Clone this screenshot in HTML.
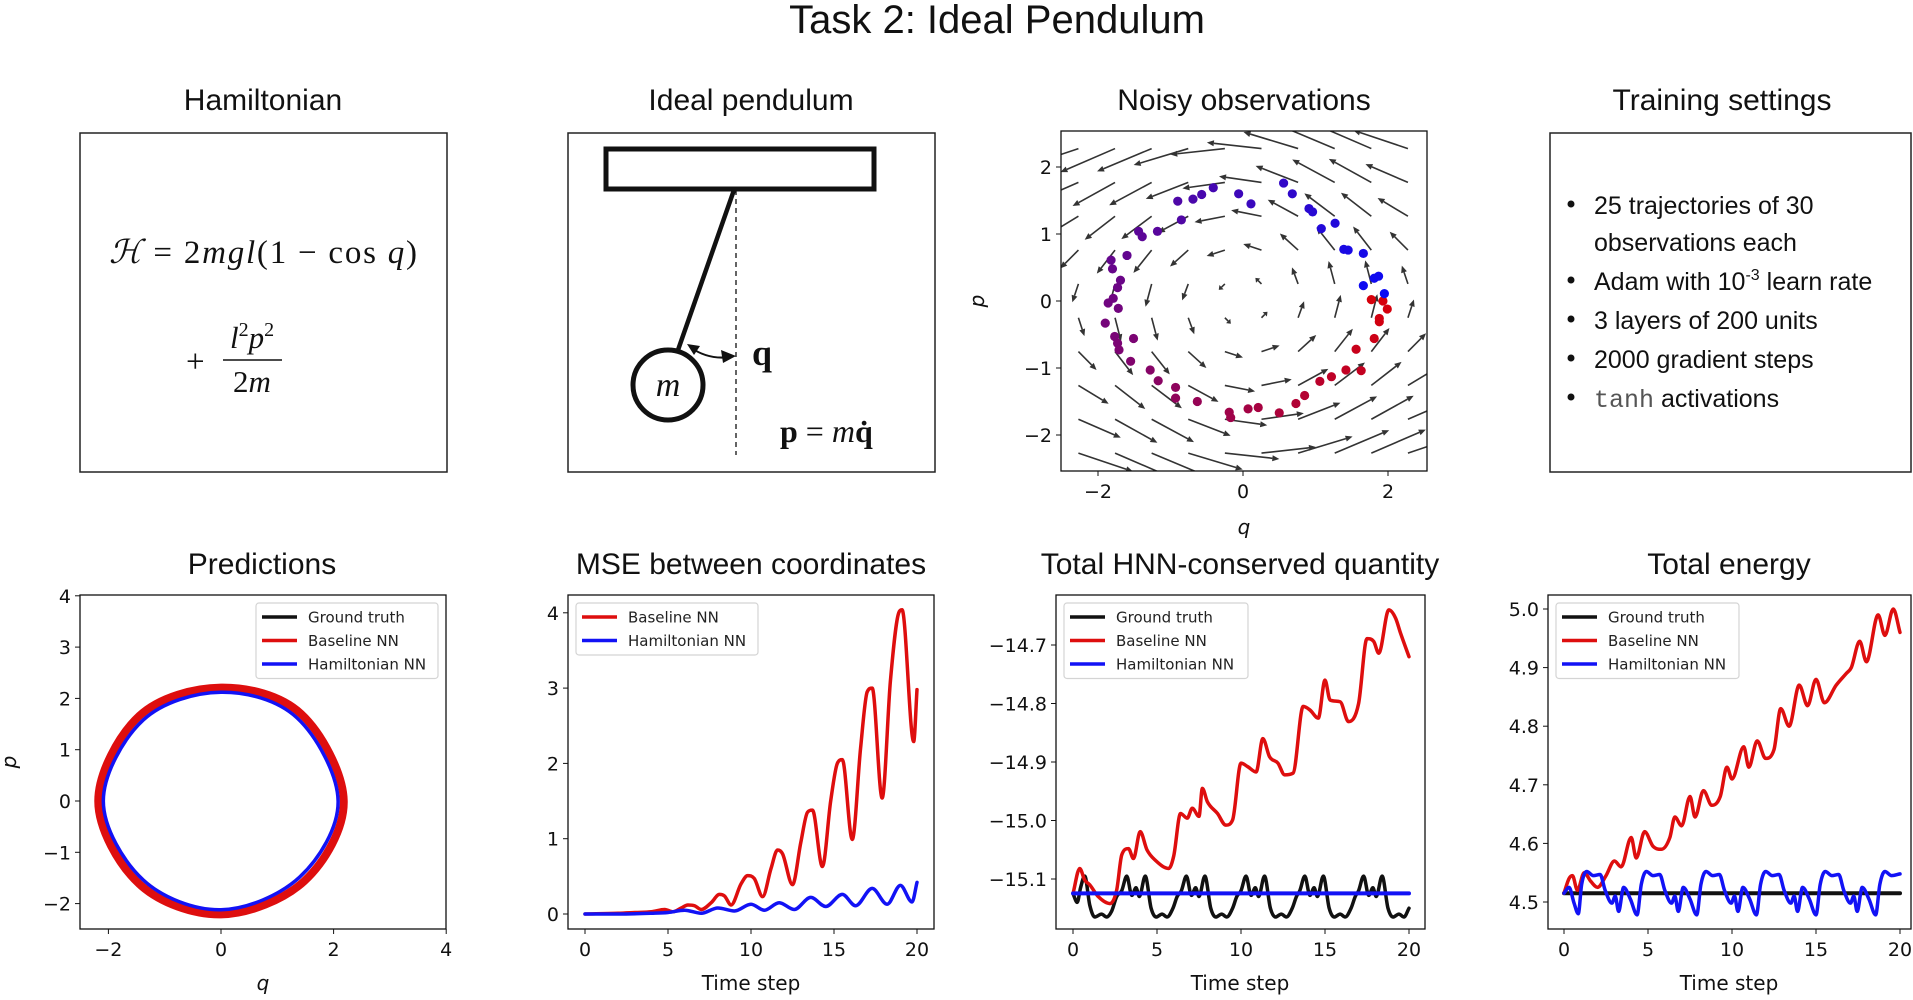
<!DOCTYPE html>
<html><head><meta charset="utf-8">
<style>
html,body{margin:0;padding:0;background:#fff;}
svg{display:block;}
.t{font-family:"Liberation Sans",sans-serif;}
.d{font-family:"DejaVu Sans","Liberation Sans",sans-serif;}
.s{font-family:"Liberation Serif","DejaVu Serif",serif;}
</style></head>
<body>
<svg id="fig" xmlns="http://www.w3.org/2000/svg" width="1913" height="1000" viewBox="0 0 1913 1000">
<text class="t" x="997" y="33" font-size="40" text-anchor="middle" fill="#111">Task 2: Ideal Pendulum</text>

<text class="t" x="263" y="110" font-size="30" text-anchor="middle" fill="#111">Hamiltonian</text>
<rect x="80" y="133" width="367" height="339" fill="none" stroke="#222" stroke-width="1.5"/>
<text class="s" x="109" y="263" font-size="33" fill="#111" textLength="308"><tspan font-style="italic">ℋ</tspan> = 2<tspan font-style="italic">mgl</tspan>(1 − cos <tspan font-style="italic">q</tspan>)</text>
<text class="s" x="186" y="372" font-size="33" fill="#111">+</text>
<text class="s" x="252" y="348" font-size="31" fill="#111" text-anchor="middle" font-style="italic">l<tspan font-size="20" dy="-12" font-style="normal">2</tspan><tspan dy="12">p</tspan><tspan font-size="20" dy="-12" font-style="normal">2</tspan></text>
<line x1="223" y1="360" x2="282" y2="360" stroke="#111" stroke-width="1.5"/>
<text class="s" x="252" y="392" font-size="31" fill="#111" text-anchor="middle">2<tspan font-style="italic">m</tspan></text>

<text class="t" x="751" y="110" font-size="30" text-anchor="middle" fill="#111">Ideal pendulum</text>
<rect x="568" y="133" width="367" height="339" fill="none" stroke="#222" stroke-width="1.5"/>
<rect x="606" y="149" width="268" height="40" fill="none" stroke="#111" stroke-width="5"/>
<line x1="736" y1="190" x2="736" y2="455" stroke="#111" stroke-width="1.3" stroke-dasharray="5,4"/>
<line x1="734" y1="190" x2="678" y2="350" stroke="#111" stroke-width="4.5"/>
<circle cx="668" cy="385" r="35" fill="none" stroke="#111" stroke-width="5"/>
<text class="s" x="668" y="396" font-size="34" font-style="italic" text-anchor="middle" fill="#111">m</text>
<path d="M690,347 Q708,360 730,357" fill="none" stroke="#111" stroke-width="2"/>
<polygon points="736,356 721,350 723,363" fill="#111"/>
<polygon points="687,344 700,346 694,355" fill="#111"/>
<text class="s" x="752" y="365" font-size="36" font-weight="bold" fill="#111">q</text>
<text class="s" x="780" y="442" font-size="32" fill="#111"><tspan font-weight="bold">p</tspan> = <tspan font-style="italic">m</tspan><tspan font-weight="bold">q̇</tspan></text>

<text class="t" x="1722" y="110" font-size="30" text-anchor="middle" fill="#111">Training settings</text>
<rect x="1550" y="133" width="361" height="339" fill="none" stroke="#222" stroke-width="1.5"/>
<g class="t" font-size="25" fill="#111">
<circle cx="1571" cy="204" r="3.5" fill="#111"/><text x="1594" y="214">25 trajectories of 30</text>
<text x="1594" y="251">observations each</text>
<circle cx="1571" cy="280" r="3.5" fill="#111"/><text x="1594" y="290">Adam with 10<tspan font-size="16" dy="-10">-3</tspan><tspan dy="10"> learn rate</tspan></text>
<circle cx="1571" cy="319" r="3.5" fill="#111"/><text x="1594" y="329">3 layers of 200 units</text>
<circle cx="1571" cy="358" r="3.5" fill="#111"/><text x="1594" y="368">2000 gradient steps</text>
<circle cx="1571" cy="397" r="3.5" fill="#111"/><text x="1594" y="407"><tspan font-family="Liberation Mono,monospace" fill="#555">tanh</tspan> activations</text>
</g>

<g id="plots"></g>
</svg>
<script>
// ---------- data ----------
const obsQ = [0.56,0.68,-0.06,0.11,-0.41,-0.57,-0.69,-0.9,-0.85,-1.18,-1.44,-1.39,-1.6,-1.82,-1.80,-1.69,-1.73,-1.79,-1.86,-1.72,-1.9,-1.77,-1.73,-1.71,-1.51,-1.55,-1.28,-1.17,-0.93,-0.93,-0.63,-0.19,-0.17,0.07,0.21,0.5,0.73,0.85,1.06,1.22,1.42,1.63,1.56,1.81,1.88,1.88,1.99,1.93,1.77,1.95,1.66,1.81,1.87,1.66,1.39,1.45,1.08,1.27,0.91,0.96];
const obsP = [1.76,1.60,1.60,1.45,1.69,1.59,1.52,1.49,1.21,1.04,1.04,0.96,0.68,0.61,0.48,0.31,0.2,0.04,-0.03,-0.11,-0.33,-0.53,-0.63,-0.73,-0.56,-0.9,-1.03,-1.19,-1.29,-1.45,-1.50,-1.66,-1.74,-1.61,-1.59,-1.67,-1.53,-1.41,-1.2,-1.13,-1.03,-1.04,-0.72,-0.56,-0.31,-0.26,-0.12,0.0,0.02,0.11,0.23,0.34,0.37,0.71,0.77,0.76,1.08,1.16,1.38,1.33];

const hnnQ = [2.08,1.35,0,-1.38,-2.09,-1.38,0,1.4];
const hnnP = [0,1.62,2.12,1.58,0,-1.54,-2.12,-1.48];
const baseQ = [2.18,1.42,0,-1.45,-2.18,-1.45,0,1.48];
const baseP = [0,1.7,2.21,1.66,0,-1.62,-2.21,-1.56];

const mseBaseT = [0,2,3,4,4.8,5.3,5.8,6.2,6.6,7.0,7.6,8.1,8.4,8.8,9.4,9.8,10.2,10.7,11.2,11.6,11.9,12.5,13.0,13.4,13.7,14.3,14.8,15.2,15.5,16.1,16.6,17.0,17.3,17.9,18.4,18.9,19.1,19.8,20];
const mseBaseV = [0,0.01,0.02,0.03,0.06,0.03,0.08,0.12,0.11,0.06,0.15,0.26,0.24,0.12,0.4,0.51,0.47,0.23,0.6,0.85,0.8,0.39,0.95,1.35,1.38,0.63,1.5,2.0,2.05,0.99,2.2,2.95,3.0,1.54,3.1,4.0,4.04,2.29,2.98];
const mseHnnT = [0,2,4,5,6,7,8,9,10,10.8,11.7,12.6,13.6,14.5,15.5,16.3,17.3,18.2,19.0,19.7,20];
const mseHnnV = [0,0.0,0.01,0.02,0.05,0.01,0.08,0.04,0.13,0.05,0.15,0.06,0.22,0.1,0.26,0.11,0.34,0.13,0.38,0.16,0.42];

const hqBaseT = [0,0.4,0.7,1.0,1.5,2.2,2.6,2.9,3.3,3.6,4.0,4.4,4.9,5.7,6.0,6.4,6.8,7.1,7.5,7.7,8.0,8.6,9.1,9.5,10.0,10.4,10.9,11.3,11.7,12.2,12.6,13.1,13.7,14.1,14.6,15.0,15.3,15.9,16.4,17.0,17.5,17.9,18.2,18.8,19.2,19.5,20];
const hqBaseV = [-15.125,-15.082,-15.102,-15.11,-15.13,-15.142,-15.119,-15.059,-15.048,-15.065,-15.019,-15.05,-15.068,-15.082,-15.06,-14.988,-14.996,-14.979,-14.993,-14.945,-14.968,-14.988,-15.008,-14.999,-14.902,-14.908,-14.917,-14.86,-14.891,-14.902,-14.922,-14.919,-14.805,-14.811,-14.825,-14.76,-14.794,-14.797,-14.831,-14.80,-14.689,-14.694,-14.714,-14.64,-14.654,-14.68,-14.72];
const hqTruthT = [0,0.25,0.45,0.7,1.0,1.3,1.7,2.0,2.3,2.6,2.9,3.2,3.5,3.75,3.95,4.3,4.65,4.95,5.3,5.6,5.95,6.2,6.45,6.75,7.05,7.3,7.5,7.85,8.2,8.5,8.85,9.15,9.5,9.75,10.0,10.3,10.6,10.85,11.05,11.4,11.75,12.05,12.4,12.7,13.05,13.3,13.5,13.8,14.1,14.35,14.55,14.9,15.25,15.55,15.9,16.2,16.55,16.8,17.0,17.3,17.6,17.85,18.05,18.4,18.75,19.05,19.4,19.7,20];
const hqTruthV = [-15.125,-15.14,-15.115,-15.095,-15.145,-15.165,-15.16,-15.165,-15.155,-15.13,-15.12,-15.095,-15.128,-15.115,-15.13,-15.095,-15.15,-15.165,-15.16,-15.165,-15.15,-15.13,-15.12,-15.095,-15.128,-15.115,-15.13,-15.095,-15.15,-15.165,-15.16,-15.165,-15.15,-15.13,-15.12,-15.095,-15.128,-15.115,-15.13,-15.095,-15.15,-15.165,-15.16,-15.165,-15.15,-15.13,-15.12,-15.095,-15.128,-15.115,-15.13,-15.095,-15.15,-15.165,-15.16,-15.165,-15.15,-15.13,-15.12,-15.095,-15.128,-15.115,-15.13,-15.095,-15.15,-15.165,-15.16,-15.165,-15.15];
const hqHnnT = [0,20];
const hqHnnV = [-15.1245,-15.1245];

const enBaseT = [0,0.3,0.5,0.8,1.2,1.6,2.0,2.5,3.0,3.4,4.0,4.3,4.8,5.3,5.8,6.3,6.6,7.0,7.5,7.8,8.3,8.8,9.3,9.7,10.0,10.7,11.0,11.5,12.0,12.5,12.9,13.4,14.0,14.5,15.0,15.5,16.2,16.8,17.1,17.6,18.0,18.7,19.1,19.6,20];
const enBaseV = [4.515,4.54,4.545,4.52,4.55,4.535,4.525,4.545,4.57,4.56,4.61,4.575,4.62,4.595,4.59,4.61,4.645,4.63,4.68,4.645,4.69,4.665,4.68,4.73,4.71,4.765,4.73,4.775,4.745,4.76,4.83,4.80,4.87,4.835,4.88,4.84,4.87,4.89,4.90,4.945,4.91,4.99,4.955,5.0,4.96];
const enHnnT = [0,0.3,0.6,0.85,1.05,1.35,1.75,2.15,2.45,2.85,3.05,3.25,3.55,3.95,4.35,4.6,4.9,5.3,5.7,6.0,6.4,6.6,6.8,7.1,7.5,7.9,8.15,8.45,8.85,9.25,9.55,9.95,10.15,10.35,10.65,11.05,11.45,11.7,12.0,12.4,12.8,13.1,13.5,13.7,13.9,14.2,14.6,15.0,15.25,15.55,15.95,16.35,16.65,17.05,17.25,17.45,17.75,18.15,18.55,18.8,19.1,19.5,20];
const enHnnV = [4.515,4.525,4.498,4.48,4.53,4.552,4.545,4.547,4.52,4.498,4.51,4.484,4.525,4.505,4.478,4.53,4.552,4.545,4.547,4.52,4.498,4.51,4.484,4.525,4.505,4.478,4.53,4.552,4.545,4.547,4.52,4.498,4.51,4.484,4.525,4.505,4.478,4.53,4.552,4.545,4.547,4.52,4.498,4.51,4.484,4.525,4.505,4.478,4.53,4.552,4.545,4.547,4.52,4.498,4.51,4.484,4.525,4.505,4.478,4.53,4.552,4.545,4.548];
const enTruthT = [0,20];
const enTruthV = [4.515,4.515];

const timeTicks = [0,5,10,15,20];
const predXTicks = [-2,0,2,4];
const predYTicks = [-2,-1,0,1,2,3,4];
const obsTicks = [-2,-1,0,1,2];
const obsXTicks = [-2,0,2];
const mseTicks = [0,1,2,3,4];
const hqTicks = [-14.7,-14.8,-14.9,-15.0,-15.1];
const enTicks = [4.5,4.6,4.7,4.8,4.9,5.0];

// ---------- drawing ----------
const NS = 'http://www.w3.org/2000/svg';
const root = document.getElementById('plots');
const RED = 'rgb(222,14,14)', BLUE = 'rgb(18,18,245)', BLACK = '#111';
function mk(tag, attrs, parent){ const e = document.createElementNS(NS, tag); for (const k in attrs) e.setAttribute(k, attrs[k]); (parent||root).appendChild(e); return e; }
function fmt(v){ const s = (Math.abs(v) < 1e-9 ? 0 : v).toString(); return s.replace('-', '−'); }
function fmt1(v){ return v.toFixed(1).replace('-', '−'); }
function smoothClosed(pts){
  const n = pts.length;
  const g = i => pts[(i + n) % n];
  let d = `M${pts[0][0].toFixed(2)},${pts[0][1].toFixed(2)}`;
  for (let i = 0; i < n; i++) {
    const p0 = g(i - 1), p1 = g(i), p2 = g(i + 1), p3 = g(i + 2);
    const c1 = [p1[0] + (p2[0] - p0[0]) / 6, p1[1] + (p2[1] - p0[1]) / 6];
    const c2 = [p2[0] - (p3[0] - p1[0]) / 6, p2[1] - (p3[1] - p1[1]) / 6];
    d += `C${c1[0].toFixed(2)},${c1[1].toFixed(2)} ${c2[0].toFixed(2)},${c2[1].toFixed(2)} ${p2[0].toFixed(2)},${p2[1].toFixed(2)}`;
  }
  return d + 'Z';
}
function monotone(pts){
  const n = pts.length;
  if (n < 3) return 'M' + pts.map(p => p[0].toFixed(2) + ',' + p[1].toFixed(2)).join('L');
  const dx = [], s = [], m = new Array(n);
  for (let i = 0; i < n - 1; i++) { dx.push(pts[i+1][0] - pts[i][0]); s.push((pts[i+1][1] - pts[i][1]) / dx[i]); }
  m[0] = s[0]; m[n-1] = s[n-2];
  for (let i = 1; i < n - 1; i++) m[i] = (s[i-1] * s[i] <= 0) ? 0 : (s[i-1] + s[i]) / 2;
  for (let i = 0; i < n - 1; i++) {
    if (s[i] === 0) { m[i] = 0; m[i+1] = 0; continue; }
    const a = m[i] / s[i], b = m[i+1] / s[i], h = a*a + b*b;
    if (h > 9) { const t = 3 / Math.sqrt(h); m[i] = t*a*s[i]; m[i+1] = t*b*s[i]; }
  }
  let d = `M${pts[0][0].toFixed(2)},${pts[0][1].toFixed(2)}`;
  for (let i = 0; i < n - 1; i++) {
    const h = dx[i] / 3;
    d += `C${(pts[i][0]+h).toFixed(2)},${(pts[i][1]+m[i]*h).toFixed(2)} ${(pts[i+1][0]-h).toFixed(2)},${(pts[i+1][1]-m[i+1]*h).toFixed(2)} ${pts[i+1][0].toFixed(2)},${pts[i+1][1].toFixed(2)}`;
  }
  return d;
}
function axes(name, x0, y0, x1, y1){
  const cp = mk('clipPath', {id: 'clip-' + name});
  mk('rect', {x: x0, y: y0, width: x1 - x0, height: y1 - y0}, cp);
  const g = mk('g', {'clip-path': `url(#clip-${name})`});
  
  
  return g;
}
function frame(name, x0, y0, x1, y1){
  const r = mk('rect', {x: x0, y: y0, width: x1 - x0, height: y1 - y0, fill: 'none', stroke: '#111', 'stroke-width': 1.3});
  
  
}
function xticks(name, vals, sx, yb, labelFn){
  vals.forEach(v => {
    const x = sx(v);
    const l = mk('line', {x1: x, y1: yb, x2: x, y2: yb + 5, stroke: '#111', 'stroke-width': 1});
    
    
    const t = mk('text', {x: x, y: yb + 27, 'font-size': 19, 'text-anchor': 'middle', fill: '#111', class: 'd'});
    t.textContent = labelFn(v);
    
    
  });
}
function yticks(name, vals, sy, xl, labelFn){
  vals.forEach(v => {
    const y = sy(v);
    const l = mk('line', {x1: xl - 5, y1: y, x2: xl, y2: y, stroke: '#111', 'stroke-width': 1});
    
    
    const t = mk('text', {x: xl - 9, y: y + 7, 'font-size': 19, 'text-anchor': 'end', fill: '#111', class: 'd'});
    t.textContent = labelFn(v);
    
    
  });
}
function title(name, txt, cx, y){
  const t = mk('text', {x: cx, y: y, 'font-size': 30, 'text-anchor': 'middle', fill: '#111', class: 't'});
  t.textContent = txt;
  
  
}
function label(name, txt, x, y, rot, italic){
  const t = mk('text', {x: x, y: y, 'font-size': 20, 'text-anchor': 'middle', fill: '#111', class: 'd'});
  if (rot) t.setAttribute('transform', `rotate(-90 ${x} ${y})`);
  if (italic) t.setAttribute('font-style', 'italic');
  t.textContent = txt;
  
  
}
function series(g, name, T, V, sx, sy, color, w){
  const pts = T.map((t, i) => [sx(t), sy(V[i])]);
  const p = mk('path', {d: monotone(pts), fill: 'none', stroke: color, 'stroke-width': w, 'stroke-linejoin': 'round', 'stroke-linecap': 'round'}, g);
  
  
}
function legend(name, x, y, w, entries){
  const lg = mk('g', {});
  
  
  mk('rect', {x: x, y: y, width: w, height: entries.length * 23.5 + 5, rx: 3, fill: '#fff', 'fill-opacity': 0.85, stroke: '#d4d4d4', 'stroke-width': 1.2}, lg);
  entries.forEach((e, i) => {
    const yy = y + 14 + i * 23.5;
    const ln = mk('line', {x1: x + 6, y1: yy, x2: x + 41, y2: yy, stroke: e[1], 'stroke-width': 3.5}, lg);
    
    
    const t = mk('text', {x: x + 52, y: yy + 5.5, 'font-size': 15, fill: '#222', class: 'd'}, lg);
    t.textContent = e[0];
    
    
  });
}

// ---- Noisy observations ----
(function(){
  const x0 = 1061, y0 = 131, x1 = 1427, y1 = 471;
  const sx = q => 1243 + 72.5 * q, sy = p => 301 - 67 * p;
  title('noisy-observations', 'Noisy observations', 1244, 110);
  const g = axes('noisy', x0, y0, x1, y1);
  for (let i = 0; i < 10; i++) for (let j = 0; j < 10; j++) {
    const q = -2.27 + i * 0.505, p = -2.27 + j * 0.505;
    const u = -p, v = Math.sin(q);
    const X = sx(q), Y = sy(p);
    const dx = u * 24, dy = -v * 24;
    const L = Math.hypot(dx, dy); if (L < 0.5) continue;
    const ux = dx / L, uy = dy / L;
    const hl = Math.min(7, L * 0.45), hw = 3;
    const bx = X + dx - ux * hl, by = Y + dy - uy * hl;
    const a = mk('g', {}, g);
    
    
    mk('line', {x1: X, y1: Y, x2: bx, y2: by, stroke: '#333', 'stroke-width': 1.6}, a);
    mk('polygon', {points: `${X+dx},${Y+dy} ${bx - uy*hw},${by + ux*hw} ${bx + uy*hw},${by - ux*hw}`, fill: '#333'}, a);
  }
  obsQ.forEach((q, i) => {
    const p = obsP[i];
    const th = Math.atan2(p, q);
    const f = ((0.03 - th) % (2 * Math.PI) + 2 * Math.PI) % (2 * Math.PI) / (2 * Math.PI);
    const r = Math.round(215 * (1 - f) + 10 * f), gg = Math.round(10 * f), b = Math.round(10 * (1 - f) + 245 * f);
    const c = mk('circle', {cx: sx(q), cy: sy(p), r: 4.6, fill: `rgb(${r},${gg},${b})`}, g);
    
    
  });
  frame('noisy', x0, y0, x1, y1);
  xticks('noisy', obsXTicks, sx, y1, fmt);
  yticks('noisy', obsTicks, sy, x0, fmt);
  label('noisy-x-axis-title', 'q', 1244, 534, false, true);
  label('noisy-y-axis-title', 'p', 984, 301, true, true);
})();

// ---- Predictions ----
(function(){
  const x0 = 80, y0 = 595, x1 = 446, y1 = 929;
  const sx = q => 221 + 56.3 * q, sy = p => 801 - 51.3 * p;
  title('predictions', 'Predictions', 262, 574);
  const g = axes('predictions', x0, y0, x1, y1);
  const bp = mk('path', {d: smoothClosed(baseQ.map((q, i) => [sx(q), sy(baseP[i])])), fill: 'none', stroke: RED, 'stroke-width': 8}, g);
  
  
  const hp = mk('path', {d: smoothClosed(hnnQ.map((q, i) => [sx(q), sy(hnnP[i])])), fill: 'none', stroke: BLUE, 'stroke-width': 3.5}, g);
  
  
  frame('predictions', x0, y0, x1, y1);
  xticks('predictions', predXTicks, sx, y1, fmt);
  yticks('predictions', predYTicks, sy, x0, fmt);
  label('predictions-x-axis-title', 'q', 263, 990, false, true);
  label('predictions-y-axis-title', 'p', 16, 762, true, true);
  legend('predictions-legend', 256, 603, 182, [['Ground truth', BLACK], ['Baseline NN', RED], ['Hamiltonian NN', BLUE]]);
})();

// ---- MSE ----
(function(){
  const x0 = 568, y0 = 595, x1 = 934, y1 = 929;
  const sx = t => 585 + 16.6 * t, sy = v => 914 - 75.3 * v;
  title('mse', 'MSE between coordinates', 751, 574);
  const g = axes('mse', x0, y0, x1, y1);
  series(g, 'mse-baseline-line', mseBaseT, mseBaseV, sx, sy, RED, 3.5);
  series(g, 'mse-hamiltonian-line', mseHnnT, mseHnnV, sx, sy, BLUE, 3.5);
  frame('mse', x0, y0, x1, y1);
  xticks('mse', timeTicks, sx, y1, fmt);
  yticks('mse', mseTicks, sy, x0, fmt);
  label('mse-x-axis-title', 'Time step', 751, 990, false, false);
  legend('mse-legend', 576, 603, 182, [['Baseline NN', RED], ['Hamiltonian NN', BLUE]]);
})();

// ---- HNN-conserved quantity ----
(function(){
  const x0 = 1056, y0 = 595, x1 = 1425, y1 = 929;
  const sx = t => 1073 + 16.8 * t, sy = v => 645 + (-14.7 - v) * 585;
  title('hnn-quantity', 'Total HNN-conserved quantity', 1240, 574);
  const g = axes('hnn-quantity', x0, y0, x1, y1);
  series(g, 'hnn-quantity-truth-line', hqTruthT, hqTruthV, sx, sy, BLACK, 3.5);
  series(g, 'hnn-quantity-baseline-line', hqBaseT, hqBaseV, sx, sy, RED, 3.5);
  series(g, 'hnn-quantity-hamiltonian-line', hqHnnT, hqHnnV, sx, sy, BLUE, 4);
  frame('hnn-quantity', x0, y0, x1, y1);
  xticks('hnn-quantity', timeTicks, sx, y1, fmt);
  yticks('hnn-quantity', hqTicks, sy, x0, fmt1);
  label('hnn-quantity-x-axis-title', 'Time step', 1240, 990, false, false);
  legend('hnn-quantity-legend', 1064, 603, 184, [['Ground truth', BLACK], ['Baseline NN', RED], ['Hamiltonian NN', BLUE]]);
})();

// ---- Total energy ----
(function(){
  const x0 = 1548, y0 = 595, x1 = 1911, y1 = 929;
  const sx = t => 1564 + 16.8 * t, sy = v => 609 + (5.0 - v) * 586;
  title('energy', 'Total energy', 1729, 574);
  const g = axes('energy', x0, y0, x1, y1);
  series(g, 'energy-truth-line', enTruthT, enTruthV, sx, sy, BLACK, 4);
  series(g, 'energy-baseline-line', enBaseT, enBaseV, sx, sy, RED, 3.5);
  series(g, 'energy-hamiltonian-line', enHnnT, enHnnV, sx, sy, BLUE, 3.5);
  frame('energy', x0, y0, x1, y1);
  xticks('energy', timeTicks, sx, y1, fmt);
  yticks('energy', enTicks, sy, x0, fmt1);
  label('energy-x-axis-title', 'Time step', 1729, 990, false, false);
  legend('energy-legend', 1556, 603, 183, [['Ground truth', BLACK], ['Baseline NN', RED], ['Hamiltonian NN', BLUE]]);
})();
</script>
</body></html>
